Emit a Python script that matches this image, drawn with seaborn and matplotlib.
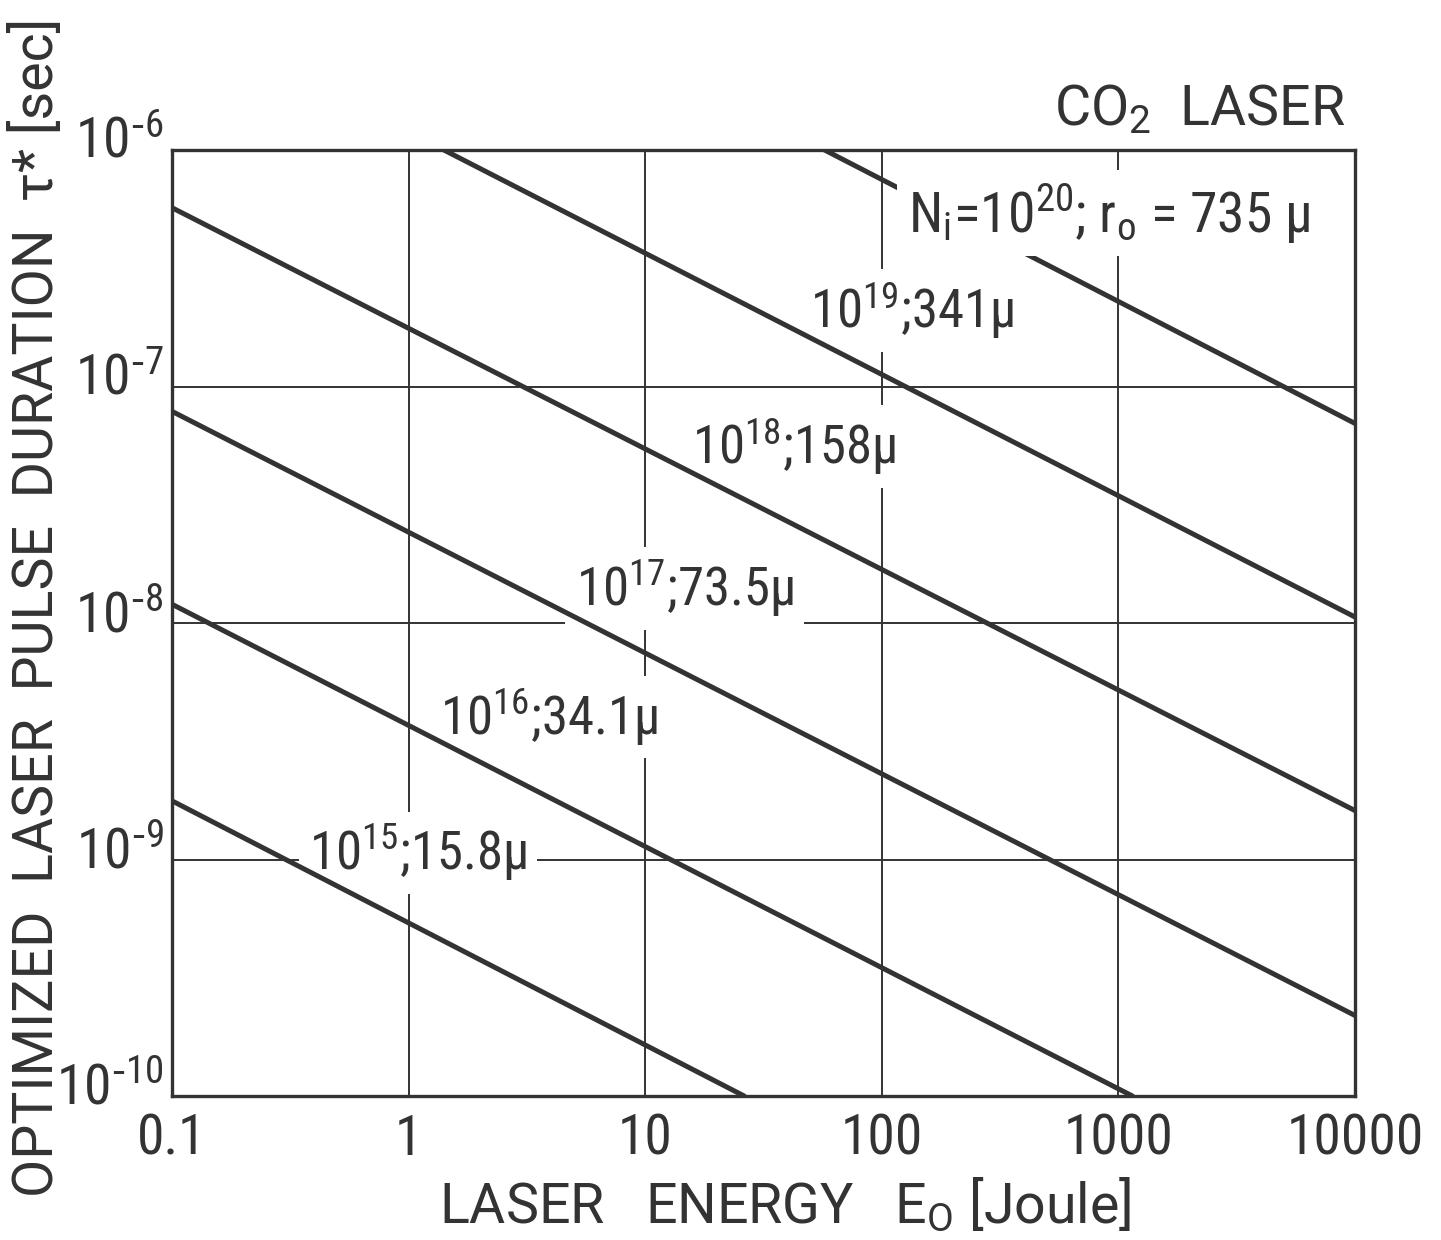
import numpy as np
import pandas as pd
import matplotlib
matplotlib.use("Agg")
import matplotlib.pyplot as plt
import matplotlib.transforms as mtransforms
import seaborn as sns
from matplotlib import font_manager
from matplotlib.ticker import FixedLocator, FixedFormatter, NullLocator

# ---------------- data ----------------
density_exp = [15, 16, 17, 18, 19, 20]
radius_um = ["15.8", "34.1", "73.5", "158", "341", "735"]
energy_start = [0.1, 0.1, 0.1, 0.1, 1.41, 57.3]
tau_start = [1.77e-9, 1.20e-8, 7.85e-8, 5.70e-7, 1.0e-6, 1.0e-6]
energy_end = [26.2, 1146.0, 1.0e4, 1.0e4, 1.0e4, 1.0e4]
tau_end = [1.0e-10, 1.0e-10, 2.19e-10, 1.61e-9, 1.06e-8, 6.98e-8]

x_ticks = [0.1, 1, 10, 100, 1000, 10000]
x_tick_labels = ["0.1", "1", "10", "100", "1000", "10000"]
y_ticks = [1e-10, 1e-9, 1e-8, 1e-7, 1e-6]
y_tick_labels = [r"$10^{\text{-}10}$", r"$10^{\text{-}9}$", r"$10^{\text{-}8}$",
                 r"$10^{\text{-}7}$", r"$10^{\text{-}6}$"]

# ---------------- layout (label anchors: left / baseline) ----------------
label_energy = [0.38, 1.36, 5.1, 15.7, 49.5, 129.0]
label_tau = [9.0e-10, 3.37e-9, 1.18e-8, 4.69e-8, 1.76e-7, 4.51e-7]

# ---------------- style ----------------
sns.set_theme(style="white")
names = {f.name for f in font_manager.fontManager.ttflist}
stretch = "normal"
if "Roboto Condensed" in names:
    num_family = "Roboto Condensed"
elif "Liberation Sans Narrow" in names:
    num_family = "Liberation Sans Narrow"
else:
    num_family = "DejaVu Sans"
    stretch = "condensed"
word_family = "Roboto" if "Roboto" in names else "DejaVu Sans"
plt.rcParams["font.family"] = [num_family, "DejaVu Sans"]
plt.rcParams["font.stretch"] = stretch
plt.rcParams["mathtext.default"] = "regular"
WORD = [word_family, "DejaVu Sans"]
INK = "#333333"
FS = 40
FS_LBL = 38

df = pd.DataFrame({
    "energy": energy_start + energy_end,
    "tau": tau_start + tau_end,
    "curve": density_exp + density_exp,
})

fig = plt.figure(figsize=(14.41, 12.40), dpi=100)
ax = fig.add_axes([172 / 1441, 1 - 1096 / 1240, (1355 - 172) / 1441, (1096 - 150) / 1240])

for i, n in enumerate(density_exp):
    sub = df[df["curve"] == n]
    sns.lineplot(data=sub, x="energy", y="tau", ax=ax, color=INK, lw=3.6,
                 zorder=3 if i == len(density_exp) - 1 else 5, legend=False)

ax.set_xscale("log")
ax.set_yscale("log")
ax.set_xlim(x_ticks[0], x_ticks[-1])
ax.set_ylim(y_ticks[0], y_ticks[-1])
ax.xaxis.set_major_locator(FixedLocator(x_ticks))
ax.xaxis.set_major_formatter(FixedFormatter(x_tick_labels))
ax.yaxis.set_major_locator(FixedLocator(y_ticks))
ax.yaxis.set_major_formatter(FixedFormatter(y_tick_labels))
ax.xaxis.set_minor_locator(NullLocator())
ax.yaxis.set_minor_locator(NullLocator())
ax.tick_params(axis="both", length=0, labelsize=FS, colors=INK)
ax.tick_params(axis="x", pad=12)
ax.tick_params(axis="y", pad=6)
ax.grid(True, which="major", color=INK, lw=1.4)
ax.set_axisbelow(True)
for s in ax.spines.values():
    s.set_color(INK)
    s.set_linewidth(2.4)
    s.set_zorder(6)

# lift y tick labels so that the "10" is centred on its grid line
shift = mtransforms.ScaledTranslation(0, 13 / 100, fig.dpi_scale_trans)
for lbl in ax.get_yticklabels():
    lbl.set_transform(lbl.get_transform() + shift)

# curve labels
for i, n in enumerate(density_exp):
    if i == len(density_exp) - 1:
        txt = r"N$_{i}$=10$^{%d}$; r$_{o}$ = %s μ" % (n, radius_um[i])
        fs = FS
    else:
        txt = r"10$^{%d}$;%sμ" % (n, radius_um[i])
        fs = FS_LBL
    ax.text(label_energy[i], label_tau[i], txt, fontsize=fs, color=INK,
            ha="left", va="baseline", zorder=4,
            bbox=dict(boxstyle="square,pad=0.2", fc="white", ec="none"))

ax.text((1345 - 172) / 1183, (1096 - 125) / 946, r"CO$_2$  LASER", transform=ax.transAxes,
        fontsize=FS, color=INK, ha="right", va="baseline", family=WORD)

ax.set_xlabel(r"LASER   ENERGY   E$_{O}$ [Joule]", fontsize=FS, color=INK, family=WORD)
ax.xaxis.set_label_coords((785 - 172) / 1183, (1096 - 1176) / 946)
ax.set_ylabel(r"OPTIMIZED  LASER  PULSE  DURATION  τ* [sec]", fontsize=FS, color=INK, family=WORD)
ax.yaxis.set_label_coords((64 - 172) / 1183, (1096 - 607) / 946)

fig.savefig("out.png", dpi=100, facecolor="white")
